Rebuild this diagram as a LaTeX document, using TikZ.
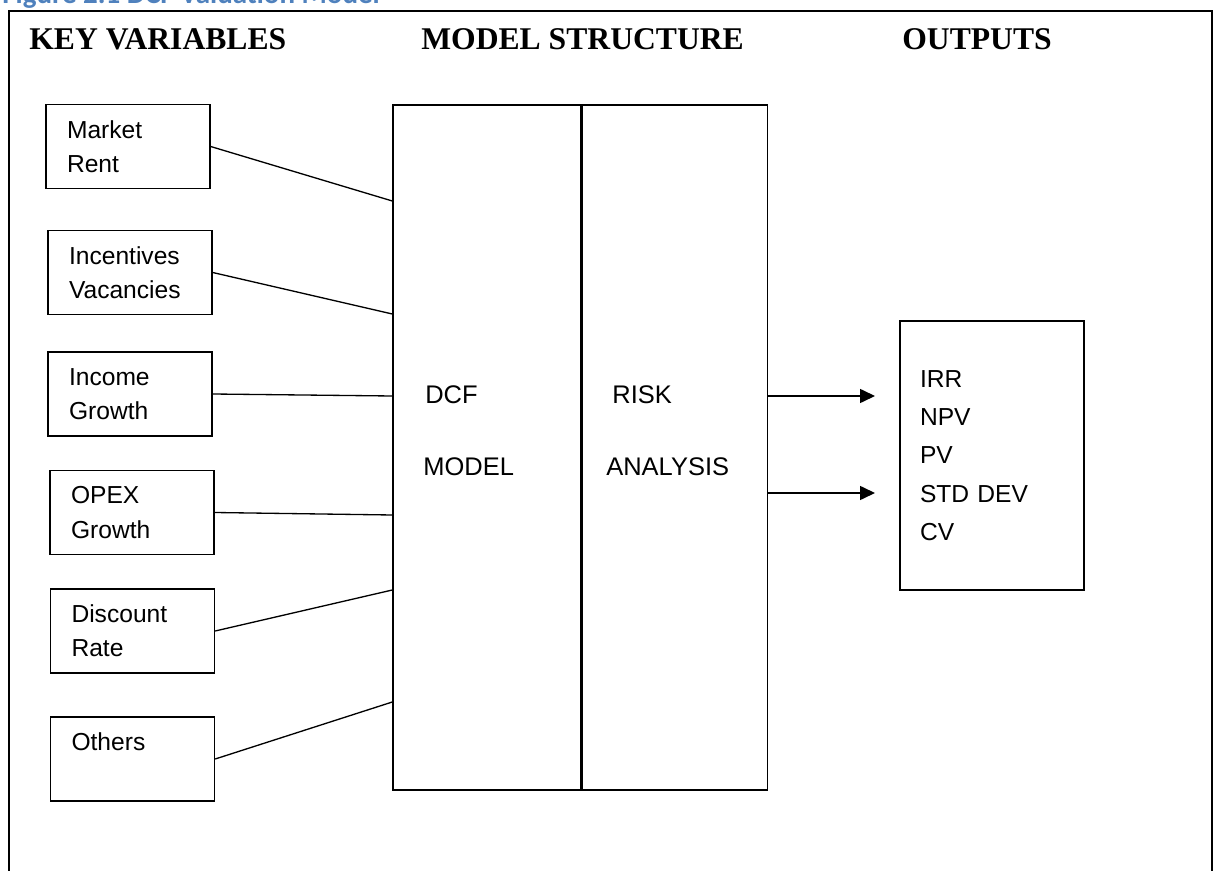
\documentclass[tikz,border=0pt]{standalone}
\usepackage{fontspec}
\setmainfont{Liberation Serif}
\setsansfont{Liberation Sans}
\newfontfamily\capfont{Carlito}
\usetikzlibrary{positioning,arrows.meta}
\definecolor{capblue}{RGB}{79,129,189}

\begin{document}
\begin{tikzpicture}[x=0.02cm, y=-0.02cm,
    heading/.style={anchor=base west, inner sep=0pt, font=\bfseries\fontsize{18}{22}\selectfont},
    var/.style={draw, line width=0.8pt, minimum width=3.28cm, minimum height=1.68cm,
      text width=2.44cm, inner xsep=0.42cm, align=left,
      font=\sffamily\fontsize{14}{19.4}\selectfont},
    stage/.style={draw, line width=0.8pt, minimum height=13.7cm},
    boxtext/.style={anchor=base west, inner sep=0pt, font=\sffamily\fontsize{14.5}{17}\selectfont},
    link/.style={line width=0.75pt},
    flow/.style={line width=0.9pt, -{Triangle[length=0.3cm, width=0.28cm]}}]
    \useasboundingbox (0,0) rectangle (1224,871);
    \begin{scope}
      \clip (0,0) rectangle (1224,871);
      \node[anchor=base west, inner sep=0pt, text=capblue,
        font=\capfont\bfseries\fontsize{16.5}{19}\selectfont] (caption) at (2,4) {Figure 2.1 DCF Valuation Model};
      \draw[line width=0.9pt] (9,871) -- (9,11) -- (1212,11) -- (1212,871);
    \end{scope}

    \node[heading] (hvar) at (29,50) {KEY VARIABLES};
    \node[heading] (hmod) at (421,50) {MODEL STRUCTURE};
    \node[heading] (hout) at (902,50) {OUTPUTS};

    \node[var] (rent) at (128,146.5) {Market\\Rent};
    \node[var] (vac) at (130,272.5) {Incentives\\Vacancies};
    \node[var] (inc) at (130,394) {Income\\Growth};
    \node[var] (opex) at (132,512.5) {OPEX\\Growth};
    \node[var] (disc) at (132.5,631) {Discount\\Rate};
    \node[var] (oth) at (132.5,759) {Others\\\mbox{}};

    \node[stage, minimum width=3.76cm] (dcf) at (487,447.5) {};
    \node[stage, minimum width=3.7cm, right=0pt of dcf] (risk) {};
    \node[boxtext] (dcf1) at (425,404) {DCF};
    \node[boxtext] (dcf2) at (423,476) {MODEL};
    \node[boxtext] (risk1) at (612,404) {RISK};
    \node[boxtext] (risk2) at (606,476) {ANALYSIS};

    \node[draw, line width=0.8pt, minimum width=3.68cm, minimum height=5.38cm,
      text width=2.88cm, inner xsep=0.4cm, align=left,
      font=\sffamily\fontsize{14}{21.8}\selectfont] (out) at (992,455.5)
      {IRR\\NPV\\PV\\STD DEV\\CV};

    \draw[link] (rent.east) -- (dcf.west |- 0,201);
    \draw[link] (vac.east) -- (dcf.west |- 0,314);
    \draw[link] (inc.east) -- (dcf.west |- 0,396);
    \draw[link] (opex.east) -- (dcf.west |- 0,515);
    \draw[link] (disc.east) -- (dcf.west |- 0,590);
    \draw[link] (oth.east) -- (dcf.west |- 0,702);

    \coordinate (tip1) at (875,396);
    \coordinate (tip2) at (875,493);
    \draw[flow] (risk.east |- tip1) -- (tip1);
    \draw[flow] (risk.east |- tip2) -- (tip2);
  \end{tikzpicture}
\end{document}
